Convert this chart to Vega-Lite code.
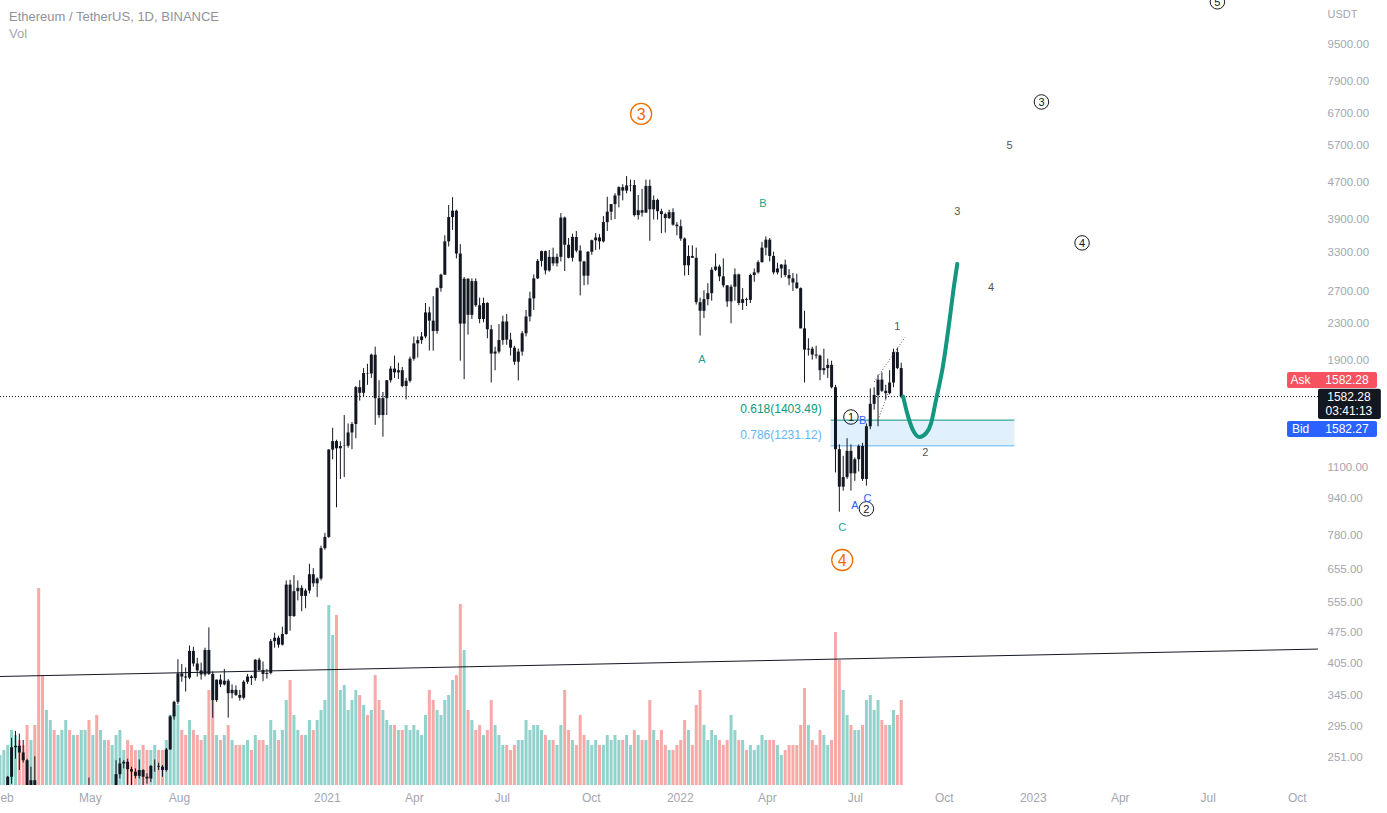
{
  "$schema": "https://vega.github.io/schema/vega-lite/v6.json",
  "width": 1318,
  "height": 785,
  "autosize": {"type": "none"},
  "padding": {"left": 0, "top": 0, "right": 69, "bottom": 28},
  "background": "#ffffff",
  "title": {"text": "Ethereum / TetherUS, 1D, BINANCE", "subtitle": "Vol", "anchor": "start", "frame": "group", "orient": "top", "offset": -48, "dx": 9, "fontSize": 13, "fontWeight": "normal", "color": "#8f929b", "subtitleFontSize": 13, "subtitleColor": "#a3a6af", "subtitlePadding": 4, "font": "Liberation Sans", "subtitleFont": "Liberation Sans"},
  "config": {"view": {"stroke": null}, "font": "Liberation Sans", "axisX": {"grid": false, "domain": false, "ticks": false, "labelColor": "#a3a6af", "labelFontSize": 12, "labelPadding": 7}},
  "datasets": {
    "ohlc": [
      {"t":"2020-01-29","o":175,"h":190,"l":172,"c":183,"v":480},
      {"t":"2020-02-02","o":183,"h":205,"l":180,"c":204,"v":560},
      {"t":"2020-02-06","o":204,"h":229,"l":204,"c":228,"v":640},
      {"t":"2020-02-10","o":228,"h":278,"l":220,"c":265,"v":880},
      {"t":"2020-02-14","o":265,"h":288,"l":250,"c":267,"v":800},
      {"t":"2020-02-18","o":267,"h":284,"l":236,"c":258,"v":720},
      {"t":"2020-02-22","o":258,"h":275,"l":245,"c":248,"v":640},
      {"t":"2020-02-26","o":248,"h":250,"l":212,"c":218,"v":960},
      {"t":"2020-03-01","o":218,"h":240,"l":215,"c":224,"v":720},
      {"t":"2020-03-05","o":224,"h":253,"l":198,"c":200,"v":960},
      {"t":"2020-03-09","o":200,"h":203,"l":95,"c":112,"v":3152},
      {"t":"2020-03-13","o":112,"h":140,"l":95,"c":110,"v":1760},
      {"t":"2020-03-17","o":110,"h":140,"l":108,"c":132,"v":1200},
      {"t":"2020-03-21","o":132,"h":140,"l":117,"c":138,"v":1040},
      {"t":"2020-03-25","o":138,"h":141,"l":125,"c":131,"v":880},
      {"t":"2020-03-29","o":131,"h":137,"l":124,"c":135,"v":800},
      {"t":"2020-04-02","o":135,"h":150,"l":133,"c":143,"v":880},
      {"t":"2020-04-06","o":143,"h":175,"l":142,"c":170,"v":1040},
      {"t":"2020-04-10","o":170,"h":173,"l":148,"c":158,"v":880},
      {"t":"2020-04-14","o":158,"h":177,"l":152,"c":171,"v":800},
      {"t":"2020-04-18","o":171,"h":187,"l":165,"c":170,"v":800},
      {"t":"2020-04-22","o":170,"h":197,"l":168,"c":194,"v":880},
      {"t":"2020-04-26","o":194,"h":218,"l":193,"c":215,"v":880},
      {"t":"2020-04-30","o":215,"h":227,"l":198,"c":208,"v":1040},
      {"t":"2020-05-04","o":208,"h":215,"l":200,"c":212,"v":800},
      {"t":"2020-05-08","o":212,"h":215,"l":178,"c":187,"v":1120},
      {"t":"2020-05-12","o":187,"h":204,"l":185,"c":194,"v":880},
      {"t":"2020-05-16","o":194,"h":216,"l":193,"c":214,"v":720},
      {"t":"2020-05-20","o":214,"h":215,"l":198,"c":208,"v":720},
      {"t":"2020-05-24","o":208,"h":211,"l":196,"c":208,"v":640},
      {"t":"2020-05-28","o":208,"h":248,"l":206,"c":231,"v":800},
      {"t":"2020-06-01","o":231,"h":251,"l":226,"c":244,"v":880},
      {"t":"2020-06-05","o":244,"h":248,"l":238,"c":246,"v":560},
      {"t":"2020-06-09","o":246,"h":250,"l":215,"c":237,"v":720},
      {"t":"2020-06-13","o":237,"h":240,"l":218,"c":234,"v":640},
      {"t":"2020-06-17","o":234,"h":238,"l":226,"c":229,"v":560},
      {"t":"2020-06-21","o":229,"h":249,"l":226,"c":236,"v":560},
      {"t":"2020-06-25","o":236,"h":237,"l":217,"c":228,"v":640},
      {"t":"2020-06-29","o":228,"h":232,"l":220,"c":226,"v":560},
      {"t":"2020-07-03","o":226,"h":242,"l":222,"c":241,"v":560},
      {"t":"2020-07-07","o":241,"h":249,"l":234,"c":241,"v":640},
      {"t":"2020-07-11","o":241,"h":245,"l":236,"c":240,"v":560},
      {"t":"2020-07-15","o":240,"h":242,"l":228,"c":236,"v":560},
      {"t":"2020-07-19","o":236,"h":264,"l":234,"c":262,"v":720},
      {"t":"2020-07-23","o":262,"h":312,"l":262,"c":310,"v":1120},
      {"t":"2020-07-27","o":310,"h":336,"l":305,"c":334,"v":1200},
      {"t":"2020-07-31","o":334,"h":415,"l":330,"c":386,"v":1280},
      {"t":"2020-08-04","o":386,"h":405,"l":370,"c":380,"v":880},
      {"t":"2020-08-08","o":380,"h":398,"l":352,"c":378,"v":800},
      {"t":"2020-08-12","o":378,"h":445,"l":375,"c":433,"v":1040},
      {"t":"2020-08-16","o":433,"h":442,"l":400,"c":406,"v":880},
      {"t":"2020-08-20","o":406,"h":418,"l":380,"c":392,"v":800},
      {"t":"2020-08-24","o":392,"h":408,"l":374,"c":384,"v":720},
      {"t":"2020-08-28","o":384,"h":440,"l":380,"c":435,"v":800},
      {"t":"2020-09-01","o":435,"h":488,"l":383,"c":385,"v":1520},
      {"t":"2020-09-05","o":385,"h":390,"l":308,"c":337,"v":1360},
      {"t":"2020-09-09","o":337,"h":374,"l":334,"c":374,"v":800},
      {"t":"2020-09-13","o":374,"h":384,"l":360,"c":365,"v":720},
      {"t":"2020-09-17","o":365,"h":395,"l":363,"c":372,"v":800},
      {"t":"2020-09-21","o":372,"h":375,"l":308,"c":349,"v":960},
      {"t":"2020-09-25","o":349,"h":365,"l":340,"c":355,"v":720},
      {"t":"2020-09-29","o":355,"h":363,"l":344,"c":346,"v":640},
      {"t":"2020-10-03","o":346,"h":355,"l":336,"c":341,"v":640},
      {"t":"2020-10-07","o":341,"h":373,"l":338,"c":370,"v":640},
      {"t":"2020-10-11","o":370,"h":385,"l":366,"c":380,"v":720},
      {"t":"2020-10-15","o":380,"h":383,"l":364,"c":377,"v":560},
      {"t":"2020-10-19","o":377,"h":415,"l":372,"c":414,"v":800},
      {"t":"2020-10-23","o":414,"h":418,"l":390,"c":393,"v":720},
      {"t":"2020-10-27","o":393,"h":410,"l":371,"c":385,"v":720},
      {"t":"2020-10-31","o":385,"h":395,"l":376,"c":387,"v":640},
      {"t":"2020-11-04","o":387,"h":460,"l":384,"c":455,"v":1040},
      {"t":"2020-11-08","o":455,"h":475,"l":440,"c":463,"v":880},
      {"t":"2020-11-12","o":463,"h":468,"l":440,"c":447,"v":720},
      {"t":"2020-11-16","o":447,"h":490,"l":445,"c":472,"v":880},
      {"t":"2020-11-20","o":472,"h":620,"l":470,"c":607,"v":1360},
      {"t":"2020-11-24","o":607,"h":622,"l":480,"c":517,"v":1680},
      {"t":"2020-11-28","o":517,"h":637,"l":515,"c":587,"v":1120},
      {"t":"2020-12-02","o":587,"h":620,"l":560,"c":597,"v":880},
      {"t":"2020-12-06","o":597,"h":605,"l":530,"c":573,"v":800},
      {"t":"2020-12-10","o":573,"h":595,"l":538,"c":589,"v":800},
      {"t":"2020-12-14","o":589,"h":675,"l":580,"c":640,"v":1040},
      {"t":"2020-12-18","o":640,"h":660,"l":600,"c":611,"v":880},
      {"t":"2020-12-22","o":611,"h":630,"l":570,"c":626,"v":1040},
      {"t":"2020-12-26","o":626,"h":740,"l":620,"c":731,"v":1200},
      {"t":"2020-12-30","o":731,"h":790,"l":725,"c":774,"v":1360},
      {"t":"2021-01-03","o":774,"h":1210,"l":770,"c":1208,"v":2880},
      {"t":"2021-01-07","o":1208,"h":1350,"l":1150,"c":1261,"v":2400},
      {"t":"2021-01-11","o":1261,"h":1270,"l":900,"c":1216,"v":2720},
      {"t":"2021-01-15","o":1216,"h":1260,"l":1040,"c":1230,"v":1520},
      {"t":"2021-01-19","o":1230,"h":1440,"l":1050,"c":1232,"v":1600},
      {"t":"2021-01-23","o":1232,"h":1380,"l":1220,"c":1318,"v":1200},
      {"t":"2021-01-27","o":1318,"h":1390,"l":1210,"c":1376,"v":1360},
      {"t":"2021-01-31","o":1376,"h":1670,"l":1280,"c":1660,"v":1520},
      {"t":"2021-02-04","o":1660,"h":1720,"l":1550,"c":1613,"v":1440},
      {"t":"2021-02-08","o":1613,"h":1830,"l":1580,"c":1784,"v":1280},
      {"t":"2021-02-12","o":1784,"h":1870,"l":1680,"c":1780,"v":1120},
      {"t":"2021-02-16","o":1780,"h":1970,"l":1740,"c":1959,"v":1200},
      {"t":"2021-02-20","o":1959,"h":2040,"l":1370,"c":1570,"v":1760},
      {"t":"2021-02-24","o":1570,"h":1720,"l":1420,"c":1440,"v":1360},
      {"t":"2021-02-28","o":1440,"h":1620,"l":1290,"c":1570,"v":1200},
      {"t":"2021-03-04","o":1570,"h":1720,"l":1440,"c":1720,"v":1040},
      {"t":"2021-03-08","o":1720,"h":1850,"l":1700,"c":1825,"v":960},
      {"t":"2021-03-12","o":1825,"h":1950,"l":1740,"c":1790,"v":960},
      {"t":"2021-03-16","o":1790,"h":1880,"l":1730,"c":1810,"v":880},
      {"t":"2021-03-20","o":1810,"h":1840,"l":1660,"c":1670,"v":880},
      {"t":"2021-03-24","o":1670,"h":1740,"l":1560,"c":1715,"v":960},
      {"t":"2021-03-28","o":1715,"h":1940,"l":1700,"c":1919,"v":880},
      {"t":"2021-04-01","o":1919,"h":2150,"l":1900,"c":2075,"v":960},
      {"t":"2021-04-05","o":2075,"h":2150,"l":1930,"c":2110,"v":880},
      {"t":"2021-04-09","o":2110,"h":2200,"l":2070,"c":2150,"v":800},
      {"t":"2021-04-13","o":2150,"h":2550,"l":2130,"c":2430,"v":1120},
      {"t":"2021-04-17","o":2430,"h":2500,"l":2000,"c":2330,"v":1520},
      {"t":"2021-04-21","o":2330,"h":2640,"l":2000,"c":2210,"v":1360},
      {"t":"2021-04-25","o":2210,"h":2760,"l":2180,"c":2750,"v":1200},
      {"t":"2021-04-29","o":2750,"h":2960,"l":2700,"c":2945,"v":1120},
      {"t":"2021-05-03","o":2945,"h":3600,"l":2940,"c":3490,"v":1360},
      {"t":"2021-05-07","o":3490,"h":4200,"l":3400,"c":3950,"v":1440},
      {"t":"2021-05-11","o":3950,"h":4372,"l":3700,"c":4080,"v":1680},
      {"t":"2021-05-15","o":4080,"h":4100,"l":3200,"c":3280,"v":1760},
      {"t":"2021-05-19","o":3280,"h":3440,"l":1900,"c":2295,"v":2896},
      {"t":"2021-05-23","o":2295,"h":2910,"l":1730,"c":2885,"v":2160},
      {"t":"2021-05-27","o":2885,"h":2890,"l":2170,"c":2400,"v":1200},
      {"t":"2021-05-31","o":2400,"h":2890,"l":2350,"c":2850,"v":1040},
      {"t":"2021-06-04","o":2850,"h":2890,"l":2500,"c":2520,"v":880},
      {"t":"2021-06-08","o":2520,"h":2620,"l":2300,"c":2350,"v":960},
      {"t":"2021-06-12","o":2350,"h":2620,"l":2310,"c":2550,"v":800},
      {"t":"2021-06-16","o":2550,"h":2560,"l":2130,"c":2230,"v":880},
      {"t":"2021-06-20","o":2230,"h":2280,"l":1700,"c":1970,"v":1360},
      {"t":"2021-06-24","o":1970,"h":2040,"l":1810,"c":1990,"v":960},
      {"t":"2021-06-28","o":1990,"h":2290,"l":1970,"c":2110,"v":800},
      {"t":"2021-07-02","o":2110,"h":2390,"l":2060,"c":2320,"v":640},
      {"t":"2021-07-06","o":2320,"h":2410,"l":2060,"c":2115,"v":640},
      {"t":"2021-07-10","o":2115,"h":2190,"l":1950,"c":2030,"v":560},
      {"t":"2021-07-14","o":2030,"h":2050,"l":1860,"c":1890,"v":640},
      {"t":"2021-07-18","o":1890,"h":2020,"l":1718,"c":1990,"v":720},
      {"t":"2021-07-22","o":1990,"h":2210,"l":1950,"c":2185,"v":720},
      {"t":"2021-07-26","o":2185,"h":2460,"l":2150,"c":2380,"v":1040},
      {"t":"2021-07-30","o":2380,"h":2700,"l":2320,"c":2610,"v":880},
      {"t":"2021-08-03","o":2610,"h":2950,"l":2460,"c":2890,"v":960},
      {"t":"2021-08-07","o":2890,"h":3190,"l":2880,"c":3160,"v":960},
      {"t":"2021-08-11","o":3160,"h":3330,"l":3070,"c":3320,"v":880},
      {"t":"2021-08-15","o":3320,"h":3330,"l":2950,"c":3010,"v":800},
      {"t":"2021-08-19","o":3010,"h":3340,"l":2990,"c":3225,"v":720},
      {"t":"2021-08-23","o":3225,"h":3380,"l":3080,"c":3120,"v":720},
      {"t":"2021-08-27","o":3120,"h":3280,"l":3070,"c":3225,"v":640},
      {"t":"2021-08-31","o":3225,"h":4030,"l":3150,"c":3940,"v":960},
      {"t":"2021-09-04","o":3940,"h":3960,"l":3000,"c":3430,"v":1520},
      {"t":"2021-09-08","o":3430,"h":3550,"l":3200,"c":3210,"v":880},
      {"t":"2021-09-12","o":3210,"h":3630,"l":3150,"c":3570,"v":720},
      {"t":"2021-09-16","o":3570,"h":3680,"l":3300,"c":3330,"v":640},
      {"t":"2021-09-20","o":3330,"h":3420,"l":2650,"c":3150,"v":1120},
      {"t":"2021-09-24","o":3150,"h":3160,"l":2790,"c":2930,"v":800},
      {"t":"2021-09-28","o":2930,"h":3320,"l":2800,"c":3310,"v":720},
      {"t":"2021-10-02","o":3310,"h":3520,"l":3260,"c":3510,"v":640},
      {"t":"2021-10-06","o":3510,"h":3640,"l":3340,"c":3560,"v":720},
      {"t":"2021-10-10","o":3560,"h":3620,"l":3350,"c":3490,"v":640},
      {"t":"2021-10-14","o":3490,"h":3970,"l":3470,"c":3850,"v":640},
      {"t":"2021-10-18","o":3850,"h":4380,"l":3680,"c":4060,"v":800},
      {"t":"2021-10-22","o":4060,"h":4220,"l":3890,"c":4220,"v":720},
      {"t":"2021-10-26","o":4220,"h":4460,"l":3910,"c":4410,"v":800},
      {"t":"2021-10-30","o":4410,"h":4620,"l":4150,"c":4600,"v":720},
      {"t":"2021-11-03","o":4600,"h":4670,"l":4300,"c":4520,"v":720},
      {"t":"2021-11-07","o":4520,"h":4868,"l":4460,"c":4640,"v":800},
      {"t":"2021-11-11","o":4640,"h":4780,"l":4500,"c":4650,"v":640},
      {"t":"2021-11-15","o":4650,"h":4770,"l":3960,"c":3990,"v":880},
      {"t":"2021-11-19","o":3990,"h":4420,"l":3900,"c":4090,"v":800},
      {"t":"2021-11-23","o":4090,"h":4560,"l":3960,"c":4040,"v":720},
      {"t":"2021-11-27","o":4040,"h":4780,"l":4040,"c":4630,"v":720},
      {"t":"2021-12-01","o":4630,"h":4780,"l":3500,"c":4110,"v":1360},
      {"t":"2021-12-05","o":4110,"h":4410,"l":3900,"c":4310,"v":880},
      {"t":"2021-12-09","o":4310,"h":4340,"l":3900,"c":4070,"v":720},
      {"t":"2021-12-13","o":4070,"h":4120,"l":3640,"c":4010,"v":880},
      {"t":"2021-12-17","o":4010,"h":4040,"l":3650,"c":3930,"v":640},
      {"t":"2021-12-21","o":3930,"h":4100,"l":3910,"c":4050,"v":560},
      {"t":"2021-12-25","o":4050,"h":4130,"l":3780,"c":3800,"v":560},
      {"t":"2021-12-29","o":3800,"h":3850,"l":3600,"c":3770,"v":640},
      {"t":"2022-01-02","o":3770,"h":3900,"l":3500,"c":3540,"v":720},
      {"t":"2022-01-06","o":3540,"h":3560,"l":2930,"c":3090,"v":1040},
      {"t":"2022-01-10","o":3090,"h":3420,"l":2940,"c":3240,"v":880},
      {"t":"2022-01-14","o":3240,"h":3420,"l":3210,"c":3210,"v":640},
      {"t":"2022-01-18","o":3210,"h":3380,"l":2530,"c":2560,"v":1280},
      {"t":"2022-01-22","o":2560,"h":2620,"l":2160,"c":2450,"v":1520},
      {"t":"2022-01-26","o":2450,"h":2720,"l":2360,"c":2600,"v":960},
      {"t":"2022-01-30","o":2600,"h":2820,"l":2520,"c":2680,"v":720},
      {"t":"2022-02-03","o":2680,"h":3060,"l":2580,"c":3020,"v":880},
      {"t":"2022-02-07","o":3020,"h":3280,"l":3000,"c":3070,"v":800},
      {"t":"2022-02-11","o":3070,"h":3100,"l":2850,"c":2920,"v":720},
      {"t":"2022-02-15","o":2920,"h":3200,"l":2760,"c":2790,"v":640},
      {"t":"2022-02-19","o":2790,"h":2790,"l":2500,"c":2570,"v":720},
      {"t":"2022-02-23","o":2570,"h":2800,"l":2300,"c":2770,"v":1120},
      {"t":"2022-02-27","o":2770,"h":3040,"l":2580,"c":2950,"v":880},
      {"t":"2022-03-03","o":2950,"h":2960,"l":2520,"c":2550,"v":720},
      {"t":"2022-03-07","o":2550,"h":2750,"l":2460,"c":2600,"v":720},
      {"t":"2022-03-11","o":2600,"h":2620,"l":2510,"c":2590,"v":560},
      {"t":"2022-03-15","o":2590,"h":2960,"l":2550,"c":2940,"v":640},
      {"t":"2022-03-19","o":2940,"h":3040,"l":2840,"c":2980,"v":560},
      {"t":"2022-03-23","o":2980,"h":3170,"l":2960,"c":3140,"v":640},
      {"t":"2022-03-27","o":3140,"h":3480,"l":3130,"c":3380,"v":800},
      {"t":"2022-03-31","o":3380,"h":3580,"l":3250,"c":3520,"v":720},
      {"t":"2022-04-04","o":3520,"h":3550,"l":3150,"c":3240,"v":720},
      {"t":"2022-04-08","o":3240,"h":3310,"l":2950,"c":2980,"v":720},
      {"t":"2022-04-12","o":2980,"h":3130,"l":2950,"c":3040,"v":640},
      {"t":"2022-04-16","o":3040,"h":3110,"l":2900,"c":3100,"v":480},
      {"t":"2022-04-20","o":3100,"h":3180,"l":2910,"c":2940,"v":560},
      {"t":"2022-04-24","o":2940,"h":3030,"l":2790,"c":2890,"v":640},
      {"t":"2022-04-28","o":2890,"h":2970,"l":2710,"c":2830,"v":640},
      {"t":"2022-05-02","o":2830,"h":2960,"l":2740,"c":2750,"v":640},
      {"t":"2022-05-06","o":2750,"h":2760,"l":2240,"c":2240,"v":960},
      {"t":"2022-05-10","o":2240,"h":2450,"l":1700,"c":2010,"v":1552},
      {"t":"2022-05-14","o":2010,"h":2130,"l":1950,"c":2020,"v":960},
      {"t":"2022-05-18","o":2020,"h":2040,"l":1910,"c":1960,"v":720},
      {"t":"2022-05-22","o":1960,"h":2050,"l":1920,"c":1950,"v":640},
      {"t":"2022-05-26","o":1950,"h":1960,"l":1720,"c":1810,"v":880},
      {"t":"2022-05-30","o":1810,"h":2020,"l":1770,"c":1830,"v":800},
      {"t":"2022-06-03","o":1830,"h":1920,"l":1740,"c":1860,"v":640},
      {"t":"2022-06-07","o":1860,"h":1900,"l":1650,"c":1660,"v":720},
      {"t":"2022-06-11","o":1660,"h":1680,"l":1075,"c":1210,"v":2448},
      {"t":"2022-06-15","o":1210,"h":1240,"l":880,"c":1000,"v":2000},
      {"t":"2022-06-19","o":1000,"h":1170,"l":980,"c":1050,"v":1520},
      {"t":"2022-06-23","o":1050,"h":1280,"l":1040,"c":1200,"v":1120},
      {"t":"2022-06-27","o":1200,"h":1240,"l":980,"c":1070,"v":960},
      {"t":"2022-07-01","o":1070,"h":1160,"l":1030,"c":1150,"v":880},
      {"t":"2022-07-05","o":1150,"h":1240,"l":1080,"c":1230,"v":880},
      {"t":"2022-07-09","o":1230,"h":1250,"l":1030,"c":1040,"v":960},
      {"t":"2022-07-13","o":1040,"h":1380,"l":1005,"c":1360,"v":1360},
      {"t":"2022-07-17","o":1360,"h":1650,"l":1340,"c":1525,"v":1440},
      {"t":"2022-07-21","o":1525,"h":1660,"l":1480,"c":1595,"v":1200},
      {"t":"2022-07-25","o":1595,"h":1770,"l":1360,"c":1725,"v":1360},
      {"t":"2022-07-29","o":1725,"h":1790,"l":1620,"c":1630,"v":1040},
      {"t":"2022-08-02","o":1630,"h":1680,"l":1560,"c":1610,"v":960},
      {"t":"2022-08-06","o":1610,"h":1810,"l":1600,"c":1700,"v":960},
      {"t":"2022-08-10","o":1700,"h":2020,"l":1660,"c":1985,"v":1200},
      {"t":"2022-08-14","o":1985,"h":2030,"l":1820,"c":1830,"v":1120},
      {"t":"2022-08-18","o":1830,"h":1880,"l":1570,"c":1582.28,"v":1360}
    ],
    "trend": [{"t":"2020-01-29","p":380},{"t":"2023-10-23","p":437}],
    "last": [{"p":1582.28}],
    "dotted": [
      {"t":"2022-07-21","p":1704,"s":"a"},{"t":"2022-08-22","p":2142,"s":"a"},
      {"t":"2022-07-26","p":1424,"s":"b"},{"t":"2022-08-04","p":1603,"s":"b"}
    ],
    "proj": [
      {"t":"2022-08-20","p":1582},{"t":"2022-08-24","p":1457},{"t":"2022-08-30","p":1336},
      {"t":"2022-09-06","p":1288},{"t":"2022-09-13","p":1315},{"t":"2022-09-18","p":1384},
      {"t":"2022-09-23","p":1556},{"t":"2022-09-30","p":1841},{"t":"2022-10-07","p":2339},
      {"t":"2022-10-11","p":2725},{"t":"2022-10-15","p":3112}
    ],
    "fibzone": [{"t0":"2022-06-06","t1":"2022-12-13","top":1403.49,"bottom":1231.12}],
    "fib": [
      {"t0":"2022-06-06","t1":"2022-12-13","p":1403.49,"txt":"0.618(1403.49)","k":"f618"},
      {"t0":"2022-06-06","t1":"2022-12-13","p":1231.12,"txt":"0.786(1231.12)","k":"f786"}
    ],
    "circled": [
      {"t":"2021-11-22","p":6682,"n":"3","k":"orange"},
      {"t":"2022-06-18","p":688,"n":"4","k":"orange"},
      {"t":"2022-06-27","p":1426,"n":"1","k":"black"},
      {"t":"2022-07-13","p":893,"n":"2","k":"black"},
      {"t":"2023-01-10","p":7102,"n":"3","k":"black"},
      {"t":"2023-02-21","p":3463,"n":"4","k":"black"},
      {"t":"2023-07-11","p":11830,"n":"5","k":"black"}
    ],
    "letters": [
      {"t":"2022-03-28","p":4225,"txt":"B","k":"green"},
      {"t":"2022-01-24","p":1908,"txt":"A","k":"green"},
      {"t":"2022-06-18","p":810,"txt":"C","k":"green"},
      {"t":"2022-07-09","p":1398,"txt":"B","k":"blue"},
      {"t":"2022-07-01","p":906,"txt":"A","k":"blue"},
      {"t":"2022-07-14","p":939,"txt":"C","k":"blue"},
      {"t":"2022-08-14","p":2258,"txt":"1","k":"gray"},
      {"t":"2022-09-12","p":1187,"txt":"2","k":"gray"},
      {"t":"2022-10-15","p":4055,"txt":"3","k":"gray"},
      {"t":"2022-11-19","p":2753,"txt":"4","k":"gray"},
      {"t":"2022-12-08","p":5676,"txt":"5","k":"gray"}
    ],
    "tags": [
      {"t0":"2023-09-21","t1":"2023-12-23","p0":1654,"p1":1794,"k":"ask"},
      {"t0":"2023-10-23","t1":"2023-12-27","p0":1412,"p1":1646,"k":"last"},
      {"t0":"2023-09-21","t1":"2023-12-23","p0":1288,"p1":1398,"k":"bid"}
    ],
    "tagtext": [
      {"t":"2023-10-05","p":1722,"txt":"Ask"},
      {"t":"2023-11-22","p":1722,"txt":"1582.28"},
      {"t":"2023-11-24","p":1581,"txt":"1582.28"},
      {"t":"2023-11-24","p":1473,"txt":"03:41:13"},
      {"t":"2023-10-05","p":1342,"txt":"Bid"},
      {"t":"2023-11-22","p":1342,"txt":"1582.27"}
    ]
  },
  "layer": [
    {
      "data": {"name": "ohlc"},
      "mark": {"type": "bar", "size": 3},
      "encoding": {
        "x": {"field": "t", "type": "temporal"},
        "y": {"field": "v", "type": "quantitative", "scale": {"domain": [0, 12560], "nice": false}, "axis": null},
        "color": {"condition": {"test": "datum.c < datum.o", "value": "#ef5350"}, "value": "#26a69a"},
        "opacity": {"value": 0.5}
      }
    },
    {
      "data": {"name": "fibzone"},
      "mark": {"type": "rect", "color": "#2196f3", "opacity": 0.14},
      "encoding": {
        "x": {"field": "t0", "type": "temporal"},
        "x2": {"field": "t1"},
        "y": {"field": "top", "type": "quantitative", "axis": null, "scale": {"type": "log", "domain": [218.6, 11940], "nice": false, "zero": false}},
        "y2": {"field": "bottom"}
      }
    },
    {
      "data": {"name": "fib"},
      "mark": {"type": "rule", "strokeWidth": 1},
      "encoding": {
        "x": {"field": "t0", "type": "temporal"},
        "x2": {"field": "t1"},
        "y": {"field": "p", "type": "quantitative", "axis": null, "scale": {"type": "log", "domain": [218.6, 11940], "nice": false, "zero": false}},
        "color": {"field": "k", "type": "nominal", "legend": null,
          "scale": {"domain": ["orange","black","green","blue","gray","f618","f786","ask","last","bid"], "range": ["#ef6c00","#131722","#22a08e","#2962ff","#555555","#089981","#64b5f6","#f7525f","#131722","#2962ff"]}}
      }
    },
    {
      "data": {"name": "fib"},
      "mark": {"type": "text", "align": "right", "baseline": "bottom", "dx": -9, "dy": -4, "fontSize": 12},
      "encoding": {
        "x": {"field": "t0", "type": "temporal"},
        "y": {"field": "p", "type": "quantitative", "axis": null, "scale": {"type": "log", "domain": [218.6, 11940], "nice": false, "zero": false}},
        "text": {"field": "txt"},
        "color": {"field": "k", "type": "nominal", "legend": null,
          "scale": {"domain": ["orange","black","green","blue","gray","f618","f786","ask","last","bid"], "range": ["#ef6c00","#131722","#22a08e","#2962ff","#555555","#089981","#64b5f6","#f7525f","#131722","#2962ff"]}}
      }
    },
    {
      "data": {"name": "trend"},
      "mark": {"type": "line", "color": "#131722", "strokeWidth": 1, "clip": true},
      "encoding": {
        "x": {"field": "t", "type": "temporal",
          "scale": {"type": "utc", "padding": 0, "domain": [1580256000000, 1698019200000]},
          "axis": {"orient": "bottom", "title": "", "labels": true, "grid": false, "domain": false, "ticks": false, "labelColor": "#a3a6af", "labelFontSize": 12, "labelPadding": 7, "labelOverlap": false, "labelFlush": false,
            "values": [1580515200000, 1588291200000, 1596240000000, 1609459200000, 1617235200000, 1625097600000, 1633046400000, 1640995200000, 1648771200000, 1656633600000, 1664582400000, 1672531200000, 1680307200000, 1688169600000, 1696118400000],
            "labelExpr": "utcmonth(datum.value) == 0 ? utcFormat(datum.value, '%Y') : utcFormat(datum.value, '%b')"}},
        "y": {"field": "p", "type": "quantitative", "axis": null, "scale": {"type": "log", "domain": [218.6, 11940], "nice": false, "zero": false}}
      }
    },
    {
      "data": {"name": "last"},
      "mark": {"type": "rule", "color": "#131722", "strokeWidth": 1, "strokeDash": [1, 2]},
      "encoding": {
        "y": {"field": "p", "type": "quantitative", "axis": null, "scale": {"type": "log", "domain": [218.6, 11940], "nice": false, "zero": false}}
      }
    },
    {
      "data": {"name": "ohlc"},
      "mark": {"type": "rule", "color": "#131722", "strokeWidth": 1, "clip": true},
      "encoding": {
        "x": {"field": "t", "type": "temporal"},
        "y": {"field": "l", "type": "quantitative", "axis": null, "scale": {"type": "log", "domain": [218.6, 11940], "nice": false, "zero": false}},
        "y2": {"field": "h"}
      }
    },
    {
      "data": {"name": "ohlc"},
      "mark": {"type": "bar", "color": "#131722", "size": 3, "clip": true},
      "encoding": {
        "x": {"field": "t", "type": "temporal"},
        "y": {"field": "o", "type": "quantitative",
          "scale": {"type": "log", "domain": [218.6, 11940], "nice": false, "zero": false},
          "axis": {"orient": "right", "title": "USDT", "titleAngle": 0, "titleX": 9, "titleY": 14, "titleAlign": "left", "titleBaseline": "middle", "titleFontSize": 11, "titleFontWeight": "normal", "titleColor": "#a3a6af",
            "values": [251, 295, 345, 405, 475, 555, 655, 780, 940, 1100, 1900, 2300, 2700, 3300, 3900, 4700, 5700, 6700, 7900, 9500],
            "format": ".2f", "labelColor": "#a3a6af", "labelFontSize": 11.5, "labelAlign": "left", "labelBaseline": "middle", "labelPadding": 9, "domain": false, "ticks": false, "grid": false, "labelOverlap": false}},
        "y2": {"field": "c"}
      }
    },
    {
      "data": {"name": "dotted"},
      "mark": {"type": "line", "color": "#555555", "strokeWidth": 1, "strokeDash": [1, 2]},
      "encoding": {
        "x": {"field": "t", "type": "temporal"},
        "y": {"field": "p", "type": "quantitative", "axis": null, "scale": {"type": "log", "domain": [218.6, 11940], "nice": false, "zero": false}},
        "detail": {"field": "s"}
      }
    },
    {
      "data": {"name": "proj"},
      "mark": {"type": "line", "color": "#13977e", "strokeWidth": 4, "strokeCap": "round", "interpolate": "monotone"},
      "encoding": {
        "x": {"field": "t", "type": "temporal"},
        "y": {"field": "p", "type": "quantitative", "axis": null, "scale": {"type": "log", "domain": [218.6, 11940], "nice": false, "zero": false}}
      }
    },
    {
      "data": {"name": "circled"},
      "mark": {"type": "point", "shape": "circle", "filled": false, "opacity": 1},
      "encoding": {
        "x": {"field": "t", "type": "temporal"},
        "y": {"field": "p", "type": "quantitative", "axis": null, "scale": {"type": "log", "domain": [218.6, 11940], "nice": false, "zero": false}},
        "size": {"condition": {"test": "datum.k == 'orange'", "value": 441}, "value": 210},
        "strokeWidth": {"condition": {"test": "datum.k == 'orange'", "value": 1.3}, "value": 1},
        "color": {"field": "k", "type": "nominal", "legend": null,
          "scale": {"domain": ["orange","black","green","blue","gray","f618","f786","ask","last","bid"], "range": ["#ef6c00","#131722","#22a08e","#2962ff","#555555","#089981","#64b5f6","#f7525f","#131722","#2962ff"]}}
      }
    },
    {
      "data": {"name": "circled"},
      "mark": {"type": "text", "align": "center", "baseline": "middle", "dy": 1},
      "encoding": {
        "x": {"field": "t", "type": "temporal"},
        "y": {"field": "p", "type": "quantitative", "axis": null, "scale": {"type": "log", "domain": [218.6, 11940], "nice": false, "zero": false}},
        "text": {"field": "n"},
        "size": {"condition": {"test": "datum.k == 'orange'", "value": 16}, "value": 11},
        "color": {"field": "k", "type": "nominal", "legend": null,
          "scale": {"domain": ["orange","black","green","blue","gray","f618","f786","ask","last","bid"], "range": ["#ef6c00","#131722","#22a08e","#2962ff","#555555","#089981","#64b5f6","#f7525f","#131722","#2962ff"]}}
      }
    },
    {
      "data": {"name": "letters"},
      "mark": {"type": "text", "align": "center", "baseline": "middle", "fontSize": 11},
      "encoding": {
        "x": {"field": "t", "type": "temporal"},
        "y": {"field": "p", "type": "quantitative", "axis": null, "scale": {"type": "log", "domain": [218.6, 11940], "nice": false, "zero": false}},
        "text": {"field": "txt"},
        "color": {"field": "k", "type": "nominal", "legend": null,
          "scale": {"domain": ["orange","black","green","blue","gray","f618","f786","ask","last","bid"], "range": ["#ef6c00","#131722","#22a08e","#2962ff","#555555","#089981","#64b5f6","#f7525f","#131722","#2962ff"]}}
      }
    },
    {
      "data": {"name": "tags"},
      "mark": {"type": "rect", "cornerRadius": 2, "clip": false},
      "encoding": {
        "x": {"field": "t0", "type": "temporal"},
        "x2": {"field": "t1"},
        "y": {"field": "p0", "type": "quantitative", "axis": null, "scale": {"type": "log", "domain": [218.6, 11940], "nice": false, "zero": false}},
        "y2": {"field": "p1"},
        "color": {"field": "k", "type": "nominal", "legend": null,
          "scale": {"domain": ["orange","black","green","blue","gray","f618","f786","ask","last","bid"], "range": ["#ef6c00","#131722","#22a08e","#2962ff","#555555","#089981","#64b5f6","#f7525f","#131722","#2962ff"]}}
      }
    },
    {
      "data": {"name": "tagtext"},
      "mark": {"type": "text", "align": "center", "baseline": "middle", "fontSize": 12, "color": "#ffffff", "clip": false},
      "encoding": {
        "x": {"field": "t", "type": "temporal"},
        "y": {"field": "p", "type": "quantitative", "axis": null, "scale": {"type": "log", "domain": [218.6, 11940], "nice": false, "zero": false}},
        "text": {"field": "txt"}
      }
    }
  ],
  "resolve": {"scale": {"y": "independent"}}
}
